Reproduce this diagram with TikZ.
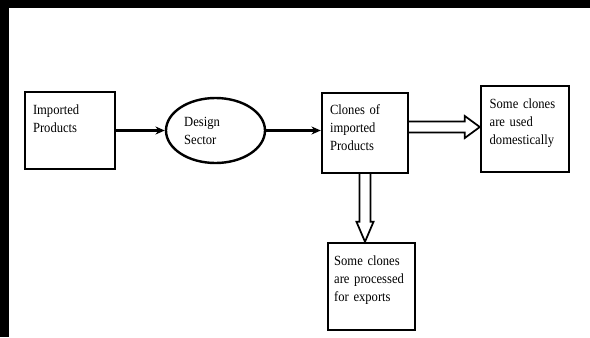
\documentclass[tikz,border=0pt]{standalone}
\usepackage{fontspec}
\setmainfont{Liberation Serif}[FakeStretch=0.9]
\usetikzlibrary{shapes.geometric,calc,arrows.meta}
\hyphenpenalty=10000
\tikzset{every picture/.style={line width=0.75pt}}
\tikzset{
  procbox/.style={draw, line width=1.8pt, align=left, inner xsep=6pt, font=\fontsize{10.5}{13.5}\selectfont},
  flowarrow/.style={line width=1.6pt, -{Stealth[length=7pt,width=6pt]}},
  hollowarrow/.style={line width=1.3pt, line join=miter},
}

\begin{document}
\begin{tikzpicture}[x=0.75pt,y=0.75pt,yscale=-1,xscale=1]
	\useasboundingbox (0,0) rectangle (590,337);

	%Frame
	\fill (0,0) rectangle (590,8);
	\fill (0,0) rectangle (9,337);

	% Boxes
	\node[procbox, text width=55.5pt, minimum height=57.75pt] (imported) at (70,130.5) {Imported\\Products\\[4pt]\mbox{}};
	\node[draw, ellipse, line width=1.8pt, inner sep=0pt, minimum width=74.25pt, minimum height=48.75pt, text width=47pt, align=left, font=\fontsize{10.5}{13.5}\selectfont] (design) at (215.5,130.5) {Design\\Sector};
	\node[procbox, text width=52.5pt, minimum height=60pt] (clones) at (365,133) {Clones of\\imported\\Products\\[-5pt]\mbox{}};
	\node[procbox, text width=53pt, inner xsep=6.5pt, minimum height=64.5pt] (domestic) at (525,129) {Some clones\\are used\\domestically\\[-2pt]\mbox{}};
	\node[procbox, text width=56pt, inner xsep=4.6pt, minimum height=65.25pt] (exports) at (371.5,286.5) {Some clones\\are processed\\for exports\\[-1pt]\mbox{}};

	% Thin arrows
	\draw[flowarrow] (imported.east) -- (imported.east -| design.west);
	\draw[flowarrow] (design.east) -- (design.east -| clones.west);

	% Hollow arrow to domestic use
	\coordinate (dstart) at ($(clones.east)+(0,-6)$);
	\coordinate (dtip) at (domestic.west |- dstart);
	\draw[hollowarrow] ($(dstart)+(0,-5.5)$) -- ($(dtip)+(-15,-5.5)$) -- ($(dtip)+(-15,-11)$) -- (dtip) -- ($(dtip)+(-15,11)$) -- ($(dtip)+(-15,5.5)$) -- ($(dstart)+(0,5.5)$);

	% Hollow arrow to exports
	\coordinate (estart) at (clones.south);
	\coordinate (etip) at (clones.south |- exports.north);
	\draw[hollowarrow] ($(estart)+(-5.5,0)$) -- ($(etip)+(-5.5,-20)$) -- ($(etip)+(-8.5,-20)$) -- (etip) -- ($(etip)+(8.5,-20)$) -- ($(etip)+(5.5,-20)$) -- ($(estart)+(5.5,0)$);

\end{tikzpicture}
\end{document}
